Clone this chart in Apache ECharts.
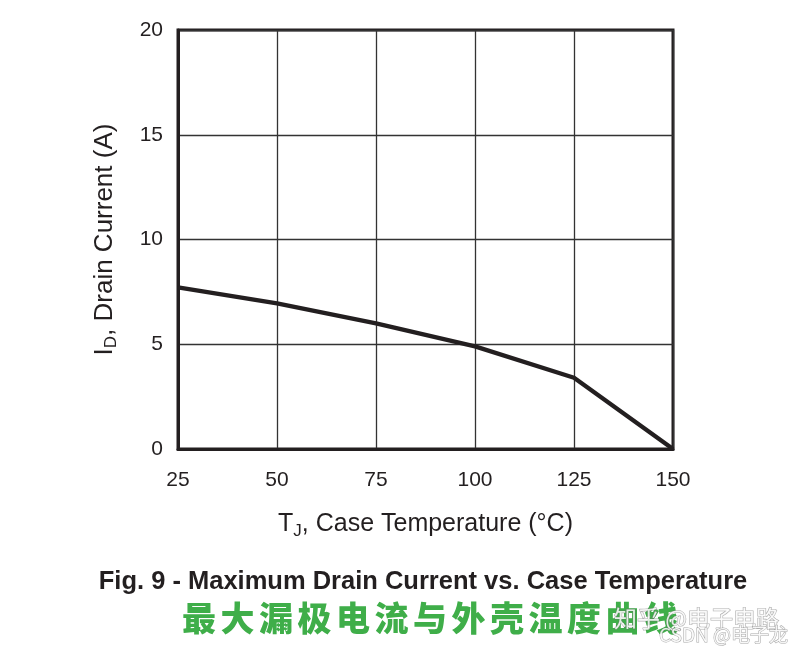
<!DOCTYPE html>
<html>
<head>
<meta charset="utf-8">
<script src="https://cdn.jsdelivr.net/npm/echarts@6/dist/echarts.min.js"></script>
<style>html,body{margin:0;padding:0;background:#fff;}#c{width:802px;height:654px;}</style>
</head>
<body>
<div id="c"></div>
<script>
const xTemps = [25, 50, 75, 100, 125, 150];
const idValues = [7.72, 6.95, 6.0, 4.9, 3.4, 0];
const xTicks = [25, 50, 75, 100, 125, 150];
const yTicks = [0, 5, 10, 15, 20];
const titleEn = 'Fig. 9 - Maximum Drain Current vs. Case Temperature';
const titleZh = '最大漏极电流与外壳温度曲线';
const watermark1 = '知乎 @电子电路';
const watermark2 = 'CSDN @电子龙';

const chart = echarts.init(document.getElementById('c'), null, {renderer: 'canvas'});
const FONT = '"Liberation Sans", Arial, sans-serif';
const CJK = '"Noto Sans CJK SC", sans-serif';
const zhRich = Array.from(titleZh).map(ch => '{c|' + ch + '}').join('');
chart.setOption({
  backgroundColor: '#fff',
  animation: false,
  title: [
    {text: titleEn, left: 418, top: 564, textAlign: 'center',
     textStyle: {fontFamily: FONT, fontSize: 25.5, fontWeight: 'bold', color: '#231f20'}},
    {text: zhRich, left: 177, top: 596,
     textStyle: {rich: {c: {fontFamily: CJK, fontSize: 34, fontWeight: 900, color: '#3fae49', padding: [0, 4.5, 0, 0]}}}},
    {text: watermark1, left: 609, top: 602,
     textStyle: {fontFamily: CJK, fontSize: 23, fontWeight: 'normal', color: 'rgba(255,255,255,0.85)', textBorderColor: 'rgba(110,110,110,0.55)', textBorderWidth: 1.2}},
    {text: watermark2, left: 654, top: 620,
     textStyle: {fontFamily: CJK, fontSize: 19, fontWeight: 'normal', color: 'rgba(255,255,255,0.85)', textBorderColor: 'rgba(110,110,110,0.6)', textBorderWidth: 1}}
  ],
  grid: {left: 178, top: 30, width: 495, height: 419, show: true, borderColor: '#231f20', borderWidth: 3, backgroundColor: 'transparent'},
  xAxis: {
    type: 'value', min: 25, max: 150, interval: 25,
    name: 'T{sub|J}, Case Temperature (°C)', nameLocation: 'middle', nameGap: 60,
    nameTextStyle: {fontFamily: FONT, fontSize: 25, color: '#231f20',
      rich: {sub: {fontFamily: FONT, fontSize: 17, color: '#231f20', verticalAlign: 'bottom', padding: [14, 0, 0, 0]}}},
    axisLine: {show: true, lineStyle: {color: '#231f20', width: 3}},
    axisTick: {show: false},
    axisLabel: {fontFamily: FONT, fontSize: 21, color: '#231f20', margin: 21,
      formatter: v => xTicks.includes(v) ? String(v) : ''},
    splitLine: {show: true, lineStyle: {color: '#333', width: 1.3}}
  },
  yAxis: {
    type: 'value', min: 0, max: 20, interval: 5,
    name: 'I{sub|D}, Drain Current (A)', nameLocation: 'middle', nameGap: 58, nameRotate: 90,
    nameTextStyle: {fontFamily: FONT, fontSize: 26, color: '#231f20',
      rich: {sub: {fontFamily: FONT, fontSize: 17, color: '#231f20', verticalAlign: 'bottom', padding: [14, 0, 0, 0]}}},
    axisLine: {show: true, lineStyle: {color: '#231f20', width: 3}},
    axisTick: {show: false},
    axisLabel: {fontFamily: FONT, fontSize: 21, color: '#231f20', margin: 15,
      formatter: v => yTicks.includes(v) ? String(v) : ''},
    splitLine: {show: true, lineStyle: {color: '#333', width: 1.3}}
  },
  series: [{
    type: 'line',
    data: xTemps.map((x, i) => [x, idValues[i]]),
    showSymbol: false,
    lineStyle: {color: '#231f20', width: 4.3},
    clip: false
  }]
});
</script>
</body>
</html>
